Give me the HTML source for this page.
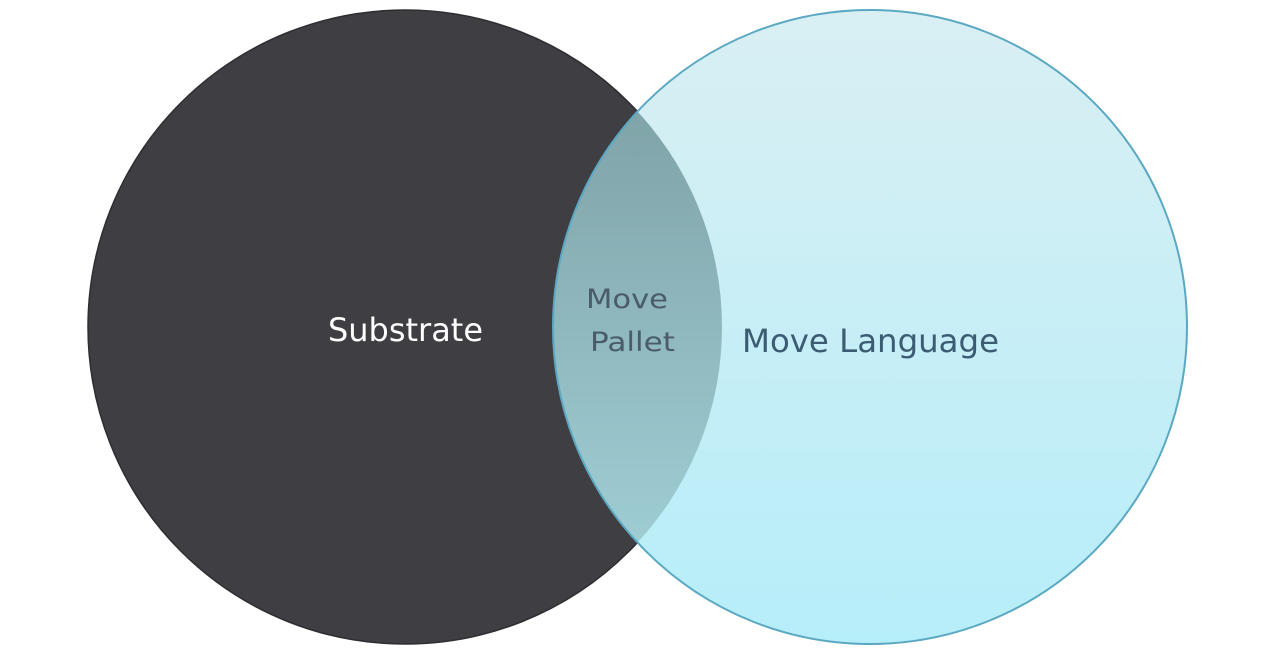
<!DOCTYPE html>
<html><head><meta charset="utf-8"><style>
html,body{margin:0;padding:0;background:#fff;width:1280px;height:654px;overflow:hidden}
svg{display:block}
text{font-family:"DejaVu Sans","Liberation Sans",sans-serif}
</style></head><body>
<svg width="1280" height="654" viewBox="0 0 1280 654" xmlns="http://www.w3.org/2000/svg">
<defs>
<linearGradient id="lg" x1="0" y1="0" x2="0" y2="1">
<stop offset="0" stop-color="#d9eff3"/><stop offset="1" stop-color="#b6eef9"/>
</linearGradient>
<linearGradient id="og" x1="0" y1="0" x2="0" y2="1">
<stop offset="0" stop-color="#789a9e"/><stop offset="1" stop-color="#a6d6de"/>
</linearGradient>
<clipPath id="cd"><circle cx="405" cy="327" r="317"/></clipPath>
</defs>
<circle cx="405" cy="327" r="317" fill="#3f3e43" stroke="#2e2d31" stroke-width="1.5"/>
<circle cx="870" cy="327" r="317" fill="url(#lg)"/>
<circle cx="870" cy="327" r="317" fill="url(#og)" clip-path="url(#cd)"/>
<circle cx="870" cy="327" r="317" fill="none" stroke="#5ba8c3" stroke-width="2"/>
<text x="328" y="341" font-size="32" fill="#ffffff" textLength="155" lengthAdjust="spacingAndGlyphs">Substrate</text>
<text x="586" y="308" font-size="27" fill="#4b5b6b" textLength="82" lengthAdjust="spacingAndGlyphs">Move</text>
<text x="590" y="351" font-size="27" fill="#4b5b6b" textLength="85" lengthAdjust="spacingAndGlyphs">Pallet</text>
<text x="742" y="352" font-size="32" fill="#3b5c72" textLength="257" lengthAdjust="spacingAndGlyphs">Move Language</text>
</svg>
</body></html>
